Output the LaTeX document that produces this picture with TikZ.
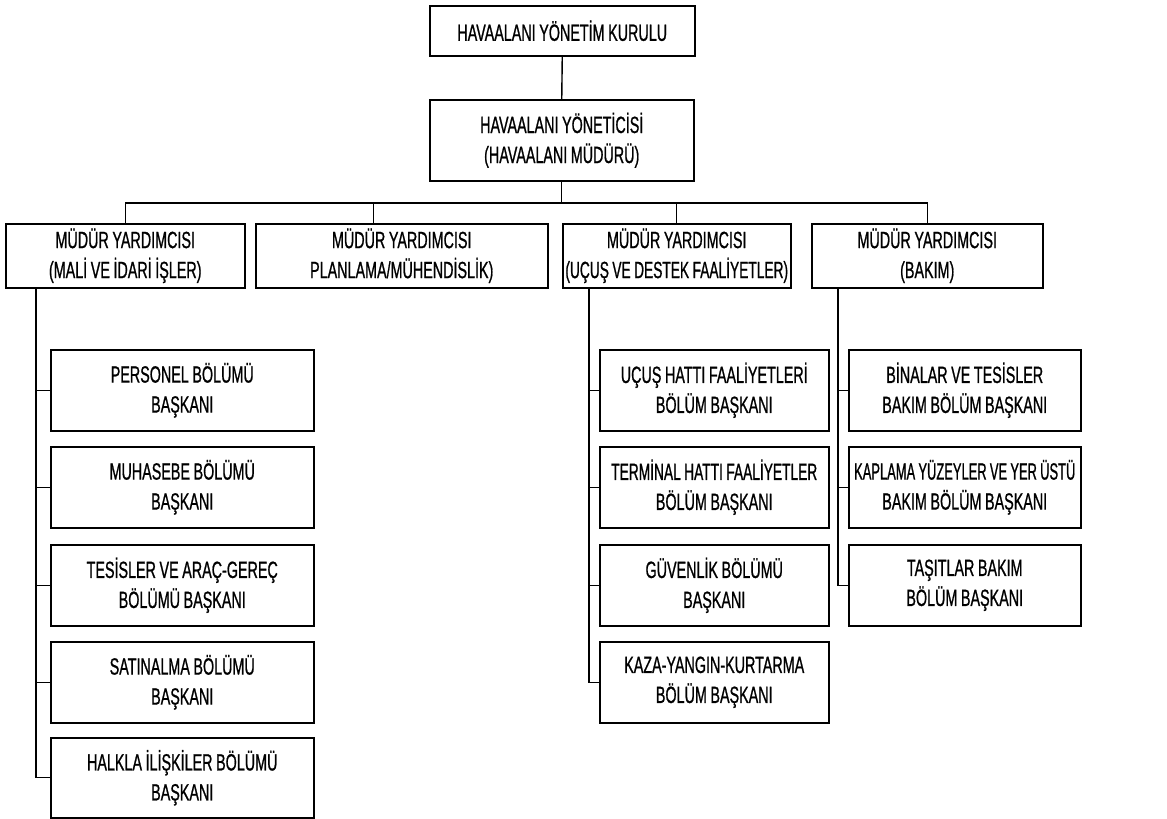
\documentclass[tikz,border=0pt]{standalone}
\usepackage{fontspec}
\newfontfamily\orgfont[FakeStretch=0.61,FakeBold=0.8,WordSpace=0.9]{Liberation Sans}
% tighter cuts for the longest lines
\newfontfamily\orgfontmid[FakeStretch=0.585,FakeBold=0.8,WordSpace=0.9]{Liberation Sans}
\newfontfamily\orgfontcond[FakeStretch=0.55,FakeBold=0.8,WordSpace=0.9]{Liberation Sans}
\begin{document}
\begin{tikzpicture}[x=1pt,y=-1pt,
  box/.style={draw, line width=1.5pt, align=center, inner sep=0pt,
    anchor=north west, font=\orgfont\fontsize{23.5}{30}\selectfont},
  link/.style={line width=1.4pt}]
\useasboundingbox (0,0) rectangle (1167,819);

% top levels
\node[box, minimum width=265pt, minimum height=50pt] (board) at (429,5) {HAVAALANI YÖNETİM KURULU};
\node[box, minimum width=264pt, minimum height=81pt] (mgr) at (429,99) {HAVAALANI YÖNETİCİSİ\\(HAVAALANI MÜDÜRÜ)};

% deputy managers
\node[box, minimum width=239pt, minimum height=64pt] (d1) at (5,223) {MÜDÜR YARDIMCISI\\(MALİ VE İDARİ İŞLER)};
\node[box, minimum width=292pt, minimum height=64pt] (d2) at (255,223) {MÜDÜR YARDIMCISI\\PLANLAMA/MÜHENDİSLİK)};
\node[box, minimum width=228pt, minimum height=64pt] (d3) at (562,223) {MÜDÜR YARDIMCISI\\{\orgfontmid (UÇUŞ VE DESTEK FAALİYETLER)}};
\node[box, minimum width=231pt, minimum height=64pt] (d4) at (811,223) {MÜDÜR YARDIMCISI\\(BAKIM)};

% finance and administration units
\tikzset{lbox/.style={box, minimum width=263pt, minimum height=81pt}}
\node[lbox] (a1) at (50,349) {PERSONEL BÖLÜMÜ\\BAŞKANI};
\node[lbox] (a2) at (50,446) {MUHASEBE BÖLÜMÜ\\BAŞKANI};
\node[lbox] (a3) at (50,544) {TESİSLER VE ARAÇ-GEREÇ\\BÖLÜMÜ BAŞKANI};
\node[lbox] (a4) at (50,641) {SATINALMA BÖLÜMÜ\\BAŞKANI};
\node[lbox, minimum height=80pt] (a5) at (50,737) {HALKLA İLİŞKİLER BÖLÜMÜ\\BAŞKANI};

% flight and support units
\tikzset{mbox/.style={box, minimum width=229pt, minimum height=81pt}}
\node[mbox] (b1) at (599,349) {UÇUŞ HATTI FAALİYETLERİ\\BÖLÜM BAŞKANI};
\node[mbox] (b2) at (599,446) {{\orgfontmid TERMİNAL HATTI FAALİYETLER}\\BÖLÜM BAŞKANI};
\node[mbox] (b3) at (599,544) {GÜVENLİK BÖLÜMÜ\\BAŞKANI};
\node[mbox] (b4) at (599,641) {KAZA-YANGIN-KURTARMA\\BÖLÜM BAŞKANI};

% maintenance units
\tikzset{rbox/.style={box, minimum width=232pt, minimum height=81pt}}
\node[rbox] (c1) at (848,349) {BİNALAR VE TESİSLER\\BAKIM BÖLÜM BAŞKANI};
\node[rbox] (c2) at (848,446) {{\orgfontcond KAPLAMA YÜZEYLER VE YER ÜSTÜ}\\BAKIM BÖLÜM BAŞKANI};
\node[rbox] (c3) at (848,544) {TAŞITLAR BAKIM\\BÖLÜM BAŞKANI};

% connectors
\coordinate (bus) at (0,203);
\draw[link] (board.south) -- (mgr.north);
\draw[link] (mgr.south) -- (mgr.south |- bus);
\draw[link] (d1.north) -- (d1.north |- bus) -- (d4.north |- bus) -- (d4.north);
\draw[link] ([xshift=-28pt]d2.north) -- ([xshift=-28pt]d2.north |- bus);
\draw[link] (d3.north) -- (d3.north |- bus);

\coordinate (ltrunk) at ([xshift=31pt]d1.south west);
\draw[link] (ltrunk) |- (a5.west);
\foreach \n in {a1,a2,a3,a4} \draw[link] (\n.west) -- (\n.west -| ltrunk);

\coordinate (mtrunk) at ([xshift=27pt]d3.south west);
\draw[link] (mtrunk) |- (b4.west);
\foreach \n in {b1,b2,b3} \draw[link] (\n.west) -- (\n.west -| mtrunk);

\coordinate (rtrunk) at ([xshift=27pt]d4.south west);
\draw[link] (rtrunk) |- (c3.west);
\foreach \n in {c1,c2} \draw[link] (\n.west) -- (\n.west -| rtrunk);
\end{tikzpicture}
\end{document}
